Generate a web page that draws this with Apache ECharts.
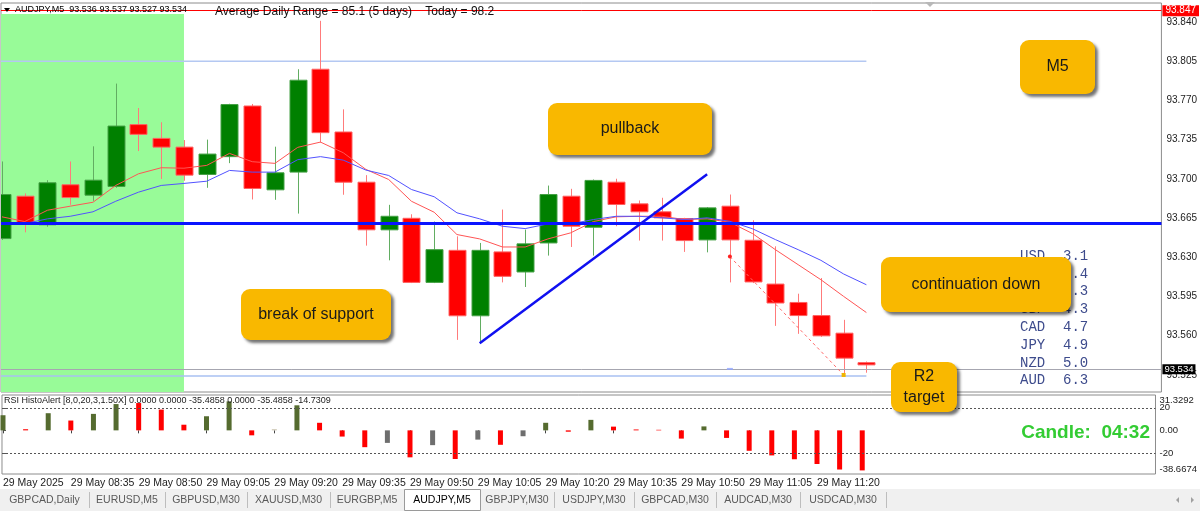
<!DOCTYPE html>
<html>
<head>
<meta charset="utf-8">
<title>AUDJPY,M5</title>
<script src="https://cdn.jsdelivr.net/npm/echarts@6/dist/echarts.min.js"></script>
<style>
html, body { margin: 0; padding: 0; background: #fff; }
#chart { width: 1200px; height: 511px; }
</style>
</head>
<body>
<div id="chart"></div>
<script>
// bars, 29 May 2025, M5
var times = ['08:20','08:25','08:30','08:35','08:40','08:45','08:50','08:55','09:00','09:05',
             '09:10','09:15','09:20','09:25','09:30','09:35','09:40','09:45','09:50','09:55',
             '10:00','10:05','10:10','10:15','10:20','10:25','10:30','10:35','10:40','10:45',
             '10:50','10:55','11:00','11:05','11:10','11:15','11:20','11:25','11:30'];
var open  = [93.6467,93.6845,93.6590,93.6947,93.6854,93.6932,93.7484,93.7361,93.7283,93.7039,
             93.7198,93.7650,93.6902,93.7060,93.7978,93.7418,93.6970,93.6545,93.6648,93.6076,
             93.6362,93.5778,93.6348,93.6169,93.6428,93.6845,93.6568,93.6970,93.6777,93.6706,
             93.6646,93.6455,93.6756,93.6452,93.6061,93.5897,93.5780,93.5623,93.5360];
var high  = [93.7155,93.6870,93.6988,93.7155,93.7290,93.7850,93.7632,93.7505,93.7346,93.7350,
             93.7670,93.7668,93.7287,93.7978,93.8410,93.7620,93.7033,93.6768,93.6684,93.6619,
             93.6487,93.6428,93.6726,93.6547,93.6940,93.6911,93.6994,93.7001,93.6807,93.6831,
             93.6652,93.6747,93.6860,93.6630,93.6398,93.5975,93.6115,93.5742,93.5370];
var low   = [93.6455,93.6523,93.6572,93.6768,93.6804,93.6920,93.7248,93.6999,93.6983,93.6920,
             93.7140,93.6816,93.6813,93.6690,93.7323,93.6858,93.6404,93.6273,93.6070,93.6070,
             93.5563,93.5534,93.6076,93.6035,93.6315,93.6392,93.6315,93.6577,93.6449,93.6449,
             93.6348,93.6344,93.6076,93.6070,93.5688,93.5617,93.5590,93.5235,93.5270];
var close = [93.6860,93.6595,93.6965,93.6833,93.6988,93.7471,93.7397,93.7283,93.7033,93.7221,
             93.7663,93.6914,93.7054,93.7880,93.7412,93.6970,93.6545,93.6666,93.6076,93.6368,
             93.5778,93.6362,93.6130,93.6420,93.6860,93.6577,93.6986,93.6771,93.6706,93.6652,
             93.6449,93.6741,93.6455,93.6080,93.5892,93.5780,93.5599,93.5400,93.5340];
var maFast = [93.6661,93.6619,93.6720,93.6756,93.6791,93.6941,93.7045,93.7099,93.7095,93.7120,
              93.7227,93.7153,93.7138,93.7281,93.7328,93.7233,93.7084,93.6994,93.6800,93.6702,
              93.6503,93.6464,93.6392,93.6392,93.6464,93.6518,93.6619,93.6661,93.6666,93.6666,
              93.6637,93.6643,93.6613,93.6511,93.6368,93.6234,93.6100,93.5951,93.5807];
var maSlow = [93.6592,93.6601,93.6643,93.6666,93.6706,93.6800,93.6881,93.6941,93.6959,93.6979,
              93.7075,93.7060,93.7060,93.7171,93.7198,93.7167,93.7078,93.7030,93.6905,93.6840,
              93.6697,93.6643,93.6577,93.6556,93.6598,93.6598,93.6637,93.6666,93.6666,93.6652,
              93.6637,93.6652,93.6621,93.6554,93.6458,93.6368,93.6273,93.6151,93.6055];

// RSI HistoAlert histogram; kind: u = up, d = down, g = grey, t = flat
var rsiHist = [13.4,1.0,15.2,8.7,14.6,23.3,24.2,18.4,5.0,12.5,
               25.7,-4.4,1.0,22.2,6.7,-5.5,-14.9,-11.1,-23.9,-13.1,
               -25.4,-8.2,-12.8,-5.2,6.7,-1.2,9.3,3.3,0.8,0.5,
               -7.3,3.5,-6.7,-18.1,-22.2,-25.6,-29.8,-34.7,-35.4858];
var rsiKind = ['u','d','u','d','u','u','d','d','d','u',
               'u','d','t','u','d','d','d','g','d','g',
               'd','g','d','g','u','d','u','d','d','d',
               'd','u','d','d','d','d','d','d','d'];

var priceTicks = [93.525,93.560,93.595,93.630,93.665,93.700,93.735,93.770,93.805,93.840];
var rsiTicks = [20, 0, -20];
var rsiMax = 31.3292, rsiMin = -38.6674;
var priceMin = 93.5098, priceMax = 93.8569;
var timeTicks = [0,3,6,9,12,15,18,21,24,27,30,33,36];

var levelTop = 93.847, levelSupport = 93.6556, levelBid = 93.534;
var pivotUpper = 93.805, pivotLower = 93.524;
var trendLine = [[21, 93.5534], [31, 93.704]];
var projLine = [[32, 93.6306], [37, 93.525]];
var smallMark = [[32, 93.5304]];
var greenZoneEnd = 8;

var currencies = ['USD','EUR','CHF','GBP','CAD','JPY','NZD','AUD'];
var strength   = ['3.1','4.4','4.3','4.3','4.7','4.9','5.0','6.3'];
var tabs = ['GBPCAD,Daily','EURUSD,M5','GBPUSD,M30','XAUUSD,M30','EURGBP,M5','AUDJPY,M5',
            'GBPJPY,M30','USDJPY,M30','GBPCAD,M30','AUDCAD,M30','USDCAD,M30'];

var xMin = -0.044, xMax = 50.97;
var FONT = '"Liberation Sans", Arial, sans-serif';

var candles = times.map(function (t, i) { return [i, open[i], close[i], low[i], high[i]]; });

function renderCandle(params, api) {
    var x = api.value(0), o = api.value(1), c = api.value(2), l = api.value(3), h = api.value(4);
    var pO = api.coord([x, o]), pC = api.coord([x, c]);
    var pL = api.coord([x, l]), pH = api.coord([x, h]);
    var w = Math.round(api.size([1, 0])[0] * 0.75);
    var up = c >= o;
    var cx = Math.round(pO[0]) + 0.5;
    var top = Math.min(pO[1], pC[1]), bot = Math.max(pO[1], pC[1]);
    return {
        type: 'group',
        children: [
            { type: 'line', shape: { x1: cx, y1: pH[1], x2: cx, y2: pL[1] },
              style: { stroke: up ? '#62ad62' : '#ff7b7b', lineWidth: 1 } },
            { type: 'rect', shape: { x: Math.round(cx - w / 2), y: top, width: w, height: Math.max(bot - top, 1.5) },
              style: { fill: up ? '#008000' : '#ff0000', stroke: up ? '#45a045' : '#ff6161', lineWidth: 1 } }
        ]
    };
}

var kindColor = { u: '#556b2f', d: '#ff0000', g: '#6e6e6e', t: '#c9c2ad' };
var rsiData = rsiHist.map(function (v, i) {
    return { value: [i, v], itemStyle: { color: kindColor[rsiKind[i]] } };
});

// annotations
function noteBox(x, y, w, h, text) {
    return [
        { type: 'rect', z: 100, shape: { x: x, y: y, width: w, height: h, r: 9 },
          style: { fill: '#f9b800', shadowBlur: 3, shadowOffsetX: 3, shadowOffsetY: 3, shadowColor: 'rgba(0,0,0,0.55)' } },
        { type: 'text', z: 101, x: x + w / 2, y: y + h / 2,
          style: { text: text, fill: '#1a1a1a', font: '16px ' + FONT, align: 'center', verticalAlign: 'middle', lineHeight: 21 } }
    ];
}

var graphics = [];
// header
graphics.push({ type: 'polygon', z: 50, shape: { points: [[4, 8], [10, 8], [7, 12]] }, style: { fill: '#000' } });
graphics.push({ type: 'text', z: 50, x: 15, y: 10,
    style: { text: 'AUDJPY,M5  93.536 93.537 93.527 93.534', font: '9px ' + FONT, fill: '#000', verticalAlign: 'middle' } });
graphics.push({ type: 'text', z: 50, x: 215, y: 12,
    style: { text: 'Average Daily Range = 85.1 (5 days)    Today = 98.2', font: '12px ' + FONT, fill: '#111', verticalAlign: 'middle' } });
graphics.push({ type: 'polygon', z: 50, shape: { points: [[925, 2], [935, 2], [930, 7]] }, style: { fill: '#b8b8b8' } });
graphics.push({ type: 'text', z: 50, x: 4, y: 401,
    style: { text: 'RSI HistoAlert [8,0,20,3,1.50X] 0.0000 0.0000 -35.4858 0.0000 -35.4858 -14.7309', font: '9px ' + FONT, fill: '#222', verticalAlign: 'middle' } });
// currency strength list
currencies.forEach(function (cur, i) {
    var y = 256 + i * 17.8;
    graphics.push({ type: 'text', z: 40, x: 1020, y: y,
        style: { text: cur, font: '14px "Liberation Mono", monospace', fill: '#3d4b8c', verticalAlign: 'middle' } });
    graphics.push({ type: 'text', z: 40, x: 1063, y: y,
        style: { text: strength[i], font: '14px "Liberation Mono", monospace', fill: '#3d4b8c', verticalAlign: 'middle' } });
});
graphics.push({ type: 'text', z: 60, x: 1150, y: 433,
    style: { text: 'Candle:  04:32', font: 'bold 19px ' + FONT, fill: '#33cc33', align: 'right', verticalAlign: 'middle' } });
graphics = graphics.concat(
    noteBox(1020, 40, 75, 54, 'M5'),
    noteBox(548, 103, 164, 52, 'pullback'),
    noteBox(241, 289, 150, 51, 'break of support'),
    noteBox(881, 257, 190, 55, 'continuation down'),
    noteBox(891, 362, 66, 50, 'R2\ntarget')
);
// tab bar
graphics.push({ type: 'rect', z: 10, shape: { x: 0, y: 489, width: 1200, height: 22 }, style: { fill: '#f0f0f0' } });
var tabX = [0, 89, 165, 247, 330, 404, 480, 554, 634, 716, 800, 886];
tabs.forEach(function (name, i) {
    var active = name === 'AUDJPY,M5';
    if (active) {
        graphics.push({ type: 'rect', z: 11, shape: { x: tabX[i] + 0.5, y: 489.5, width: tabX[i + 1] - tabX[i], height: 21 },
            style: { fill: '#fff', stroke: '#9a9a9a', lineWidth: 1 } });
    } else {
        graphics.push({ type: 'line', z: 11, shape: { x1: tabX[i + 1] + 0.5, y1: 492, x2: tabX[i + 1] + 0.5, y2: 508 },
            style: { stroke: '#bdbdbd', lineWidth: 1 } });
    }
    graphics.push({ type: 'text', z: 12, x: (tabX[i] + tabX[i + 1]) / 2, y: 500,
        style: { text: name, font: '10.5px ' + FONT, fill: active ? '#000' : '#5a5a5a', align: 'center', verticalAlign: 'middle' } });
});
graphics.push({ type: 'polygon', z: 12, shape: { points: [[1179, 497], [1179, 503], [1176, 500]] }, style: { fill: '#a0a0a0' } });
graphics.push({ type: 'polygon', z: 12, shape: { points: [[1191, 497], [1191, 503], [1194, 500]] }, style: { fill: '#a0a0a0' } });

var chart = echarts.init(document.getElementById('chart'), null, { renderer: 'canvas' });
chart.setOption({
    animation: false,
    backgroundColor: '#fff',
    textStyle: { fontFamily: FONT },
    grid: [
        { left: 1, top: 3, width: 1161, height: 389, show: true, borderColor: '#8c8c8c', borderWidth: 1, backgroundColor: 'transparent' },
        { left: 1, top: 395, width: 1161, height: 79, show: true, borderColor: '#8c8c8c', borderWidth: 1, backgroundColor: 'transparent' }
    ],
    xAxis: [
        { type: 'value', gridIndex: 0, min: xMin, max: xMax, show: false },
        { type: 'value', gridIndex: 1, min: xMin, max: xMax,
          axisLine: { show: false }, splitLine: { show: false },
          axisTick: { show: true, customValues: timeTicks, length: 3, lineStyle: { color: '#444' } },
          axisLabel: { customValues: timeTicks, align: 'left', margin: 4, fontSize: 10.5, color: '#222',
                       formatter: function (v) { var i = Math.round(v); return i === 0 ? '29 May 2025' : '29 May ' + times[i]; } } }
    ],
    yAxis: [
        { type: 'value', gridIndex: 0, position: 'right', min: priceMin, max: priceMax,
          axisLine: { show: false }, splitLine: { show: false },
          axisTick: { show: true, customValues: priceTicks, length: 3, lineStyle: { color: '#555' } },
          axisLabel: { customValues: priceTicks, margin: 5, fontSize: 10, color: '#222',
                       formatter: function (v) { return v.toFixed(3); } } },
        { type: 'value', gridIndex: 1, position: 'right', min: rsiMin, max: rsiMax,
          axisLine: { show: false }, splitLine: { show: false },
          axisTick: { show: true, customValues: rsiTicks, length: 3, lineStyle: { color: '#555' } },
          axisLabel: { customValues: rsiTicks, margin: 4, fontSize: 9.5, color: '#222',
                       formatter: function (v) { return v === 0 ? '0.00' : String(v); } } },
        { type: 'value', gridIndex: 1, position: 'right', min: rsiMin, max: rsiMax,
          axisLine: { show: false }, splitLine: { show: false }, axisTick: { show: false },
          axisLabel: { customValues: [rsiMax], margin: 4, fontSize: 9.5, color: '#222', verticalAlign: 'top',
                       formatter: function () { return rsiMax.toFixed(4); } } },
        { type: 'value', gridIndex: 1, position: 'right', min: rsiMin, max: rsiMax,
          axisLine: { show: false }, splitLine: { show: false }, axisTick: { show: false },
          axisLabel: { customValues: [rsiMin], margin: 4, fontSize: 9.5, color: '#222', verticalAlign: 'bottom',
                       formatter: function () { return rsiMin.toFixed(4); } } }
    ],
    series: [
        {
            name: 'candles', type: 'custom', xAxisIndex: 0, yAxisIndex: 0, z: 3, clip: true,
            renderItem: renderCandle,
            encode: { x: 0, y: [1, 2, 3, 4] },
            data: candles,
            markArea: {
                silent: true, z: 1,
                itemStyle: { color: '#98fb98' },
                data: [[{ xAxis: xMin, yAxis: levelTop }, { xAxis: greenZoneEnd, yAxis: priceMin }]]
            },
            markLine: {
                silent: true, symbol: ['none', 'none'], z: 5,
                data: [
                    { yAxis: levelTop, lineStyle: { color: '#ff0000', width: 1, type: 'solid' },
                      label: { show: true, position: 'end', distance: 1, formatter: levelTop.toFixed(3), color: '#fff',
                               backgroundColor: '#ff0000', padding: [1, 3, 0, 3], fontSize: 10 } },
                    { yAxis: levelSupport, lineStyle: { color: '#0a14ff', width: 3, type: 'solid' }, label: { show: false } },
                    { yAxis: levelBid, lineStyle: { color: '#a6a6b0', width: 1, type: 'solid' },
                      label: { show: true, position: 'end', distance: 1, formatter: levelBid.toFixed(3), color: '#fff',
                               backgroundColor: '#000', padding: [0, 2, 0, 2], fontSize: 9.5, lineHeight: 10 } }
                ]
            }
        },
        { name: 'pivotUpper', type: 'line', xAxisIndex: 0, yAxisIndex: 0, z: 2, symbol: 'none',
          lineStyle: { color: '#b4c8f2', width: 1.5 }, data: [[xMin, pivotUpper], [times.length - 1, pivotUpper]] },
        { name: 'pivotLower', type: 'line', xAxisIndex: 0, yAxisIndex: 0, z: 2, symbol: 'none',
          lineStyle: { color: '#a9c0f2', width: 1.5 }, data: [[xMin, pivotLower], [times.length - 1, pivotLower]] },
        { name: 'maFast', type: 'line', xAxisIndex: 0, yAxisIndex: 0, z: 4, symbol: 'none',
          lineStyle: { color: '#ff5555', width: 1 }, data: maFast.map(function (v, i) { return [i, v]; }) },
        { name: 'maSlow', type: 'line', xAxisIndex: 0, yAxisIndex: 0, z: 4, symbol: 'none',
          lineStyle: { color: '#5252ff', width: 1 }, data: maSlow.map(function (v, i) { return [i, v]; }) },
        { name: 'trend', type: 'line', xAxisIndex: 0, yAxisIndex: 0, z: 6, symbol: 'none',
          lineStyle: { color: '#1010f0', width: 2.5 }, data: trendLine },
        { name: 'projection', type: 'line', xAxisIndex: 0, yAxisIndex: 0, z: 6, showSymbol: true,
          lineStyle: { color: '#ff6a6a', width: 1, type: [3, 3] },
          data: [
              { value: projLine[0], symbol: 'circle', symbolSize: 4, itemStyle: { color: '#ff2020' } },
              { value: projLine[1], symbol: 'rect', symbolSize: 4, itemStyle: { color: '#f0b400' } }
          ] },
        { name: 'mark', type: 'scatter', xAxisIndex: 0, yAxisIndex: 0, z: 6, symbol: 'rect', symbolSize: [6, 2],
          itemStyle: { color: '#8fa4ff' }, data: smallMark },
        { name: 'rsi', type: 'bar', xAxisIndex: 1, yAxisIndex: 1, barWidth: 5, z: 3,
          data: rsiData,
          markLine: {
              silent: true, symbol: ['none', 'none'],
              label: { show: false },
              lineStyle: { color: '#555', width: 1, type: [2, 2] },
              data: [{ yAxis: 20 }, { yAxis: -20 }]
          } }
    ],
    graphic: graphics
});
</script>
</body>
</html>
